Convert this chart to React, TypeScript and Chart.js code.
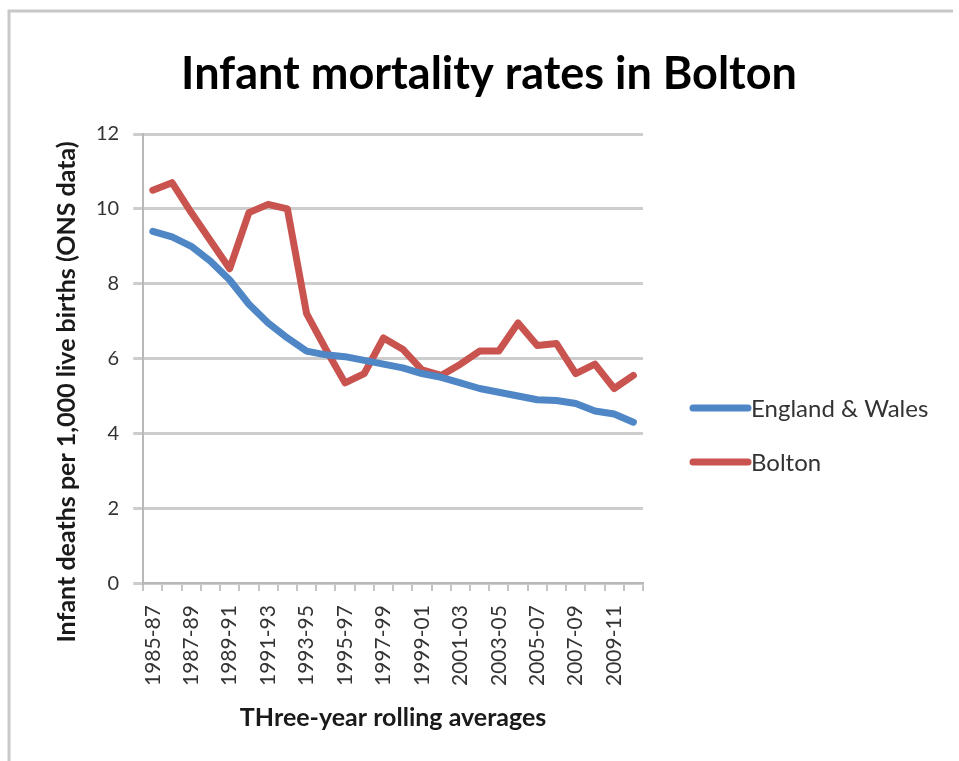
import { useEffect, useRef } from 'react';
import { Chart, registerables } from 'chart.js';

Chart.register(...registerables);

const categories = [
  '1985-87', '1986-88', '1987-89', '1988-90', '1989-91', '1990-92', '1991-93', '1992-94',
  '1993-95', '1994-96', '1995-97', '1996-98', '1997-99', '1998-00', '1999-01', '2000-02',
  '2001-03', '2002-04', '2003-05', '2004-06', '2005-07', '2006-08', '2007-09', '2008-10',
  '2009-11', '2010-12',
];

const englandWales = [
  9.4, 9.25, 9.0, 8.6, 8.1, 7.45, 6.95, 6.55, 6.2, 6.1, 6.05, 5.95, 5.85,
  5.75, 5.6, 5.5, 5.35, 5.2, 5.1, 5.0, 4.9, 4.88, 4.8, 4.6, 4.52, 4.3,
];

const bolton = [
  10.5, 10.7, 9.9, 9.15, 8.4, 9.9, 10.12, 10.0, 7.2, 6.25, 5.35, 5.6, 6.55,
  6.25, 5.7, 5.55, 5.85, 6.2, 6.2, 6.95, 6.35, 6.4, 5.6, 5.85, 5.2, 5.55,
];

const seriesNames = ['England & Wales', 'Bolton'];
const seriesColors = ['#4f86c6', '#c9534f'];

const chartTitle = 'Infant mortality rates in Bolton';
const yTitle = 'Infant deaths per 1,000 live births (ONS data)';
const xTitle = 'THree-year rolling averages';

const FONT = "Lato, 'Open Sans', 'DejaVu Sans', sans-serif";

const decor = {
  id: 'decor',
  beforeDraw(chart: any) {
    const { ctx, width, height } = chart;
    ctx.save();
    ctx.fillStyle = '#ffffff';
    ctx.fillRect(0, 0, width, height);
    ctx.strokeStyle = '#c8c8c8';
    ctx.lineWidth = 3;
    ctx.beginPath();
    ctx.moveTo(9, height);
    ctx.lineTo(9, 11);
    ctx.lineTo(953, 11);
    ctx.stroke();
    ctx.restore();
  },
  afterDraw(chart: any) {
    const { ctx, chartArea } = chart;
    ctx.save();
    // title
    ctx.fillStyle = '#000000';
    ctx.font = `bold 45px ${FONT}`;
    ctx.textAlign = 'center';
    ctx.textBaseline = 'alphabetic';
    ctx.fillText(chartTitle, 489, 89);
    // y title
    ctx.save();
    ctx.translate(67, 392);
    ctx.rotate(-Math.PI / 2);
    ctx.font = `bold 25px ${FONT}`;
    ctx.fillStyle = '#1a1a1a';
    ctx.textBaseline = 'middle';
    ctx.fillText(yTitle, 0, 0);
    ctx.restore();
    // legend
    const lx = chartArea.right + 47;
    const ys = [408, 462];
    chart.data.datasets.forEach((ds: any, i: number) => {
      ctx.strokeStyle = ds.borderColor;
      ctx.lineWidth = 7;
      ctx.lineCap = 'round';
      ctx.beginPath();
      ctx.moveTo(lx + 3, ys[i]);
      ctx.lineTo(lx + 58, ys[i]);
      ctx.stroke();
      ctx.fillStyle = '#333333';
      ctx.font = `24px ${FONT}`;
      ctx.textAlign = 'left';
      ctx.textBaseline = 'middle';
      ctx.fillText(ds.label, lx + 61, ys[i] + 1);
    });
    ctx.restore();
  },
};

export default function App() {
  const ref = useRef<HTMLCanvasElement | null>(null);

  useEffect(() => {
    if (!ref.current) return;
    const chart = new Chart(ref.current, {
      type: 'line',
      data: {
        labels: categories,
        datasets: [
          {
            label: seriesNames[0],
            data: englandWales,
            borderColor: seriesColors[0],
            backgroundColor: seriesColors[0],
            borderWidth: 7,
            pointRadius: 0,
            tension: 0,
            borderJoinStyle: 'round',
            borderCapStyle: 'round',
          },
          {
            label: seriesNames[1],
            data: bolton,
            borderColor: seriesColors[1],
            backgroundColor: seriesColors[1],
            borderWidth: 7,
            pointRadius: 0,
            tension: 0,
            borderJoinStyle: 'round',
            borderCapStyle: 'round',
          },
        ],
      },
      options: {
        animation: false,
        responsive: false,
        maintainAspectRatio: false,
        layout: { padding: { top: 134, left: 82, right: 316, bottom: 28 } },
        plugins: {
          legend: { display: false },
          title: { display: false },
          tooltip: { enabled: false },
        },
        scales: {
          x: {
            offset: true,
            grid: {
              offset: true,
              drawOnChartArea: false,
              drawTicks: true,
              tickLength: 8,
              color: '#c4c4c4',
              lineWidth: 2,
            },
            border: { color: '#b8b8b8', width: 2 },
            ticks: {
              autoSkip: false,
              maxRotation: 90,
              minRotation: 90,
              color: '#333333',
              font: { family: FONT, size: 21 },
              padding: 14,
              callback: (_v: any, i: number) => (i % 2 === 0 ? categories[i] : ''),
            },
            title: {
              display: true,
              text: xTitle,
              color: '#1a1a1a',
              font: { family: FONT, size: 25, weight: 'bold' },
              padding: { top: 3, bottom: 0 },
            },
          },
          y: {
            min: 0,
            max: 12,
            grid: {
              color: '#cdcdcd',
              lineWidth: 3,
              drawTicks: true,
              tickLength: 10,
            },
            border: { color: '#b8b8b8', width: 2 },
            ticks: {
              stepSize: 2,
              color: '#333333',
              font: { family: FONT, size: 20 },
              padding: 14,
            },
          },
        },
      },
      plugins: [decor],
    });
    return () => chart.destroy();
  }, []);

  return (
    <div style={{ position: 'fixed', left: 0, top: 0, width: 959, height: 761 }}>
      <canvas ref={ref} width={959} height={761} />
    </div>
  );
}
